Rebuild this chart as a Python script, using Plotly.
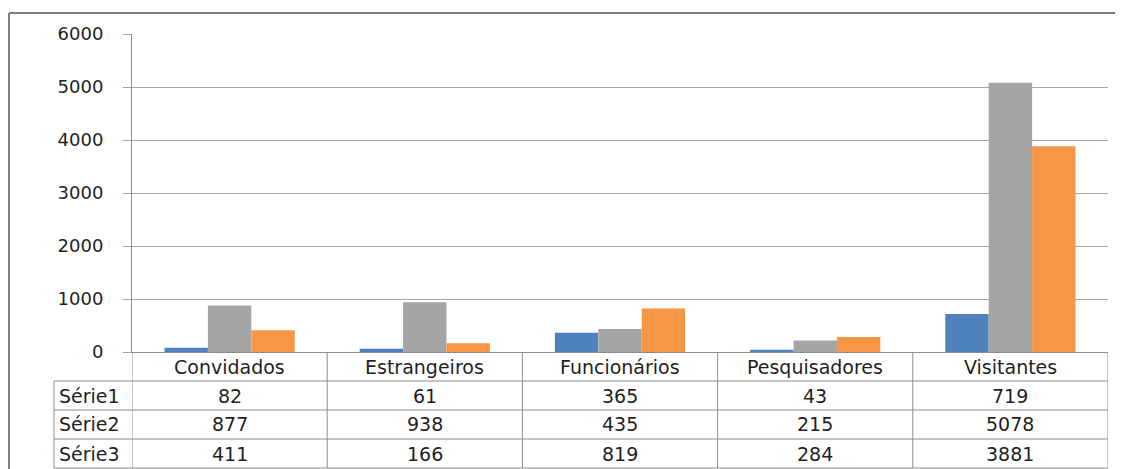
import plotly.graph_objects as go

categories = ["Convidados", "Estrangeiros", "Funcionários", "Pesquisadores", "Visitantes"]
series_names = ["Série1", "Série2", "Série3"]
serie1 = [82, 61, 365, 43, 719]
serie2 = [877, 938, 435, 215, 5078]
serie3 = [411, 166, 819, 284, 3881]
series_values = [serie1, serie2, serie3]
colors = ["#4F81BD", "#A5A5A5", "#F79646"]
y_ticks = [0, 1000, 2000, 3000, 4000, 5000, 6000]

OFF = 8  # page body margin
W, H = 1123 - OFF, 469 - OFF
L, R, T, B = 132 - OFF, 15, 34 - OFF, 117
plot_h = H - T - B
plot_w = W - L - R


def py(pix):
    # pix is in reference (window) pixels
    return (H - B - (pix - OFF)) / plot_h


def px(pix):
    return ((pix - OFF) - L) / plot_w


fig = go.Figure()
for name, vals, col in zip(series_names, series_values, colors):
    fig.add_trace(go.Bar(x=categories, y=vals, name=name, marker=dict(color=col, line=dict(width=0))))

line_col = "#8C8C8C"
font_fam = "DejaVu Sans"
txt_col = "#1f1f1f"
fs = 19
shapes = []
annotations = []

# outer chart border
shapes.append(dict(type="line", xref="paper", yref="paper", x0=px(9), x1=px(1130), y0=py(13), y1=py(13),
                   line=dict(color="#7F7F7F", width=2)))
shapes.append(dict(type="line", xref="paper", yref="paper", x0=px(9), x1=px(9), y0=py(13), y1=py(475),
                   line=dict(color="#7F7F7F", width=2)))

# table geometry
row_edges = [352, 381, 410, 439, 468]
n = len(categories)
for i in range(n + 1):
    shapes.append(dict(type="line", xref="x", yref="paper", x0=i - 0.5, x1=i - 0.5,
                       y0=py(row_edges[0]), y1=py(row_edges[-1]), line=dict(color=line_col, width=1)))
shapes.append(dict(type="line", xref="paper", yref="paper", x0=px(54), x1=px(54),
                   y0=py(row_edges[1]), y1=py(row_edges[-1]), line=dict(color=line_col, width=1)))
for e in row_edges[1:]:
    shapes.append(dict(type="line", xref="paper", yref="paper", x0=px(54), x1=1,
                       y0=py(e), y1=py(e), line=dict(color=line_col, width=1)))

hdr_y = py((row_edges[0] + row_edges[1]) / 2)
for c in categories:
    annotations.append(dict(x=c, xref="x", y=hdr_y, yref="paper", text=c, showarrow=False,
                            font=dict(family=font_fam, size=fs, color=txt_col), xanchor="center", yanchor="middle"))
for r, (name, vals) in enumerate(zip(series_names, series_values)):
    yc = py((row_edges[r + 1] + row_edges[r + 2]) / 2)
    annotations.append(dict(x=px(57), xref="paper", y=yc, yref="paper", text=name, showarrow=False,
                            font=dict(family=font_fam, size=fs, color=txt_col), xanchor="left", yanchor="middle"))
    for c, v in zip(categories, vals):
        annotations.append(dict(x=c, xref="x", y=yc, yref="paper", text=str(v), showarrow=False,
                                font=dict(family=font_fam, size=fs, color=txt_col), xanchor="center", yanchor="middle"))

fig.update_layout(
    width=W, height=H,
    margin=dict(l=L, r=R, t=T, b=B, autoexpand=False),
    paper_bgcolor="white", plot_bgcolor="white",
    showlegend=False,
    barmode="group", bargap=0.333, bargroupgap=0,
    shapes=shapes, annotations=annotations,
    xaxis=dict(range=[-0.5, n - 0.5], showticklabels=False, showgrid=False, ticks="",
               showline=True, linecolor=line_col, linewidth=1, zeroline=False, fixedrange=True),
    yaxis=dict(range=[0, 6000], tickvals=y_ticks, ticktext=[str(t) for t in y_ticks],
               showgrid=True, gridcolor="#A6A6A6", gridwidth=1, zeroline=False,
               showline=True, linecolor=line_col, linewidth=1,
               ticks="outside", ticklen=8, tickcolor="#A6A6A6", ticklabelstandoff=16,
               tickfont=dict(family=font_fam, size=18, color=txt_col), fixedrange=True),
)

fig.write_html("out.html")
